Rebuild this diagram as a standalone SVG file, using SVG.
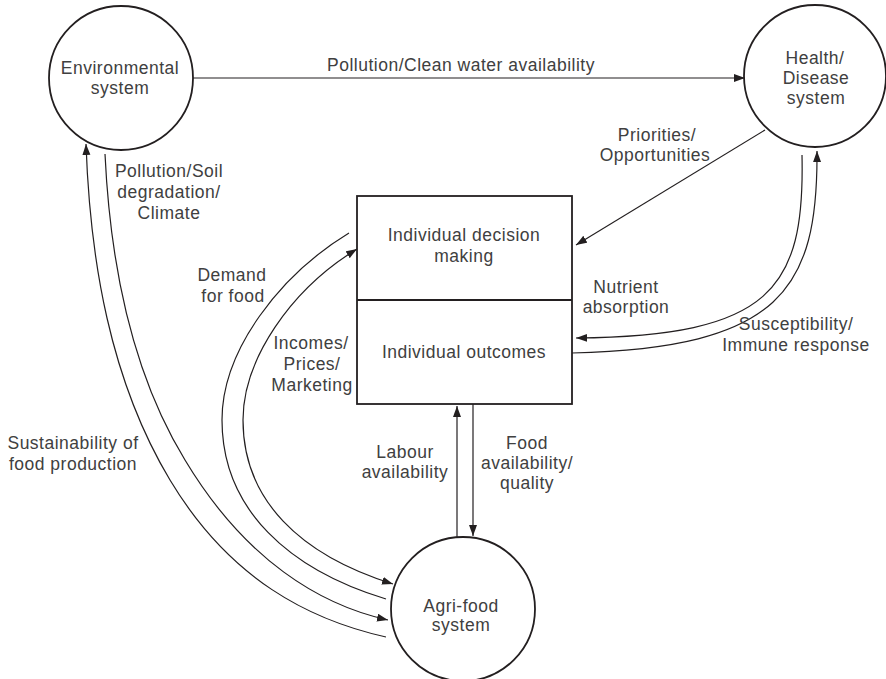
<svg xmlns="http://www.w3.org/2000/svg" width="886" height="679" viewBox="0 0 886 679">
<defs>
<style>
text{font-family:"Liberation Sans",Arial,sans-serif;font-size:17.5px;letter-spacing:0.5px;fill:#404040;text-anchor:middle}
.node{fill:#fff;stroke:#231f20;stroke-width:1.8}
.c{fill:none;stroke:#231f20;stroke-width:1.2}
</style>
<marker id="ah" markerUnits="userSpaceOnUse" markerWidth="12" markerHeight="9" refX="11" refY="4" orient="auto">
<path d="M0,0 L11,4 L0,8 z" fill="#231f20"/>
</marker>
</defs>
<rect width="886" height="679" fill="#fff"/>
<g id="connectors">
<path class="c" d="M193,78 L745,78" marker-end="url(#ah)"/>
<path class="c" d="M765,130 L576,245" marker-end="url(#ah)"/>
<path class="c" d="M802,155 C805,290 770,336 576,338" marker-end="url(#ah)"/>
<path class="c" d="M572,353 C780,348 818,290 817,151" marker-end="url(#ah)"/>
<path class="c" d="M457,537 L457,406" marker-end="url(#ah)"/>
<path class="c" d="M473,404 L473,536" marker-end="url(#ah)"/>
<path class="c" d="M386,637 C310,620 230,580 170,480 C110,380 90,260 86,144" marker-end="url(#ah)"/>
<path class="c" d="M105,154 C110,260 130,370 185,460 C245,560 320,605 388,620" marker-end="url(#ah)"/>
<path class="c" d="M349,233 C280,275 222,350 222,420 C222,510 290,570 386,599"/>
<path class="c" d="M243,420 C243,360 290,290 357,249" marker-end="url(#ah)"/>
<path class="c" d="M243,420 C243,500 300,555 393,584" marker-end="url(#ah)"/>
</g>
<g id="environmental">
<circle class="node" cx="121" cy="78" r="72"/>
<text x="120" y="74">Environmental</text>
<text x="120" y="94">system</text>
</g>
<g id="health">
<circle class="node" cx="815" cy="76" r="71"/>
<text x="815" y="64">Health/</text>
<text x="816" y="84">Disease</text>
<text x="816" y="104">system</text>
</g>
<g id="individual">
<rect class="node" x="357" y="196" width="215" height="208"/>
<line class="node" x1="357" y1="300" x2="572" y2="300"/>
<text x="464" y="241">Individual decision</text>
<text x="464" y="262">making</text>
<text x="464" y="358">Individual outcomes</text>
</g>
<g id="agrifood">
<circle class="node" cx="463" cy="609" r="72"/>
<text x="461" y="612">Agri-food</text>
<text x="461" y="631">system</text>
</g>
<g id="labels">
<text x="461" y="71">Pollution/Clean water availability</text>
<text x="169" y="177">Pollution/Soil</text>
<text x="169" y="198">degradation/</text>
<text x="169" y="219">Climate</text>
<text x="657" y="141">Priorities/</text>
<text x="655" y="161">Opportunities</text>
<text x="626" y="293">Nutrient</text>
<text x="626" y="313">absorption</text>
<text x="796" y="330">Susceptibility/</text>
<text x="796" y="351">Immune response</text>
<text x="232" y="281">Demand</text>
<text x="233" y="302">for food</text>
<text x="311" y="349">Incomes/</text>
<text x="312" y="370">Prices/</text>
<text x="312" y="391">Marketing</text>
<text x="73" y="449">Sustainability of</text>
<text x="73" y="470">food production</text>
<text x="405" y="458">Labour</text>
<text x="405" y="478">availability</text>
<text x="527" y="449">Food</text>
<text x="527" y="469">availability/</text>
<text x="527" y="489">quality</text>
</g>
</svg>
